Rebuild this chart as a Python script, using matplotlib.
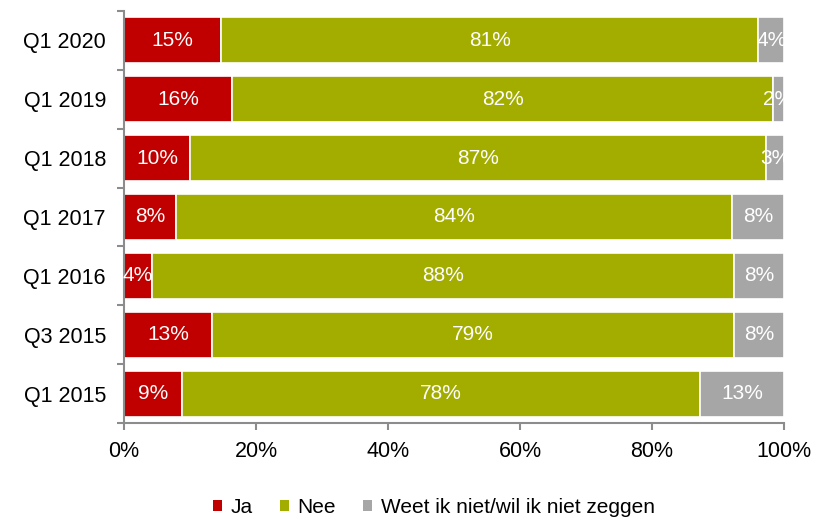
import matplotlib
matplotlib.use('Agg')
import matplotlib.pyplot as plt
from matplotlib.patches import Patch
import numpy as np

plt.rcParams['font.family'] = ['Liberation Sans', 'DejaVu Sans']

periods = ['Q1 2020', 'Q1 2019', 'Q1 2018', 'Q1 2017', 'Q1 2016', 'Q3 2015', 'Q1 2015']
ja = [14.7, 16.4, 10.0, 7.9, 4.2, 13.4, 8.8]
nee = [81.4, 81.9, 87.3, 84.2, 88.2, 79.0, 78.4]
weet = [3.9, 1.7, 2.7, 7.9, 7.6, 7.6, 12.8]

series_names = ['Ja', 'Nee', 'Weet ik niet/wil ik niet zeggen']
colors = ['#C00000', '#A2AD00', '#A6A6A6']

fig = plt.figure(figsize=(8.23, 5.21), dpi=100)
ax = fig.add_axes([0.1507, 0.188, 0.802, 0.791])

y = np.arange(len(periods))[::-1]
left = np.zeros(len(periods))
for vals, col in zip([ja, nee, weet], colors):
    vals = np.array(vals)
    ax.barh(y, vals, left=left, height=0.78, color=col, edgecolor='white', linewidth=1.2)
    for yi, l, v in zip(y, left, vals):
        ax.text(l + v / 2, yi, '%d%%' % round(v), ha='center', va='center',
                color='white', fontsize=15)
    left += vals

ax.set_xlim(0, 100)
ax.set_ylim(-0.5, len(periods) - 0.5)
ax.set_xticks(np.arange(0, 101, 20))
ax.set_xticklabels(['%d%%' % t for t in range(0, 101, 20)])
ax.set_yticks(y)
ax.set_yticklabels(periods)
ax.set_yticks(np.arange(-0.5, len(periods), 1), minor=True)

for s in ['top', 'right']:
    ax.spines[s].set_visible(False)
for s in ['left', 'bottom']:
    ax.spines[s].set_color('#8C8C8C')
    ax.spines[s].set_linewidth(1.5)

ax.tick_params(axis='y', which='major', length=0, pad=13, labelsize=15.5)
ax.tick_params(axis='y', which='minor', length=5, width=1.5, color='#8C8C8C')
ax.tick_params(axis='x', length=5, width=1.5, color='#8C8C8C', pad=8, labelsize=15.5)

handles = [Patch(facecolor=c, edgecolor='none') for c in colors]
fig.legend(handles, series_names, loc='lower center', bbox_to_anchor=(0.527, -0.028),
           ncol=3, frameon=False, fontsize=15, handlelength=0.45, handleheight=0.5,
           handletextpad=0.4, columnspacing=1.3)

fig.savefig('out.png', dpi=100)
